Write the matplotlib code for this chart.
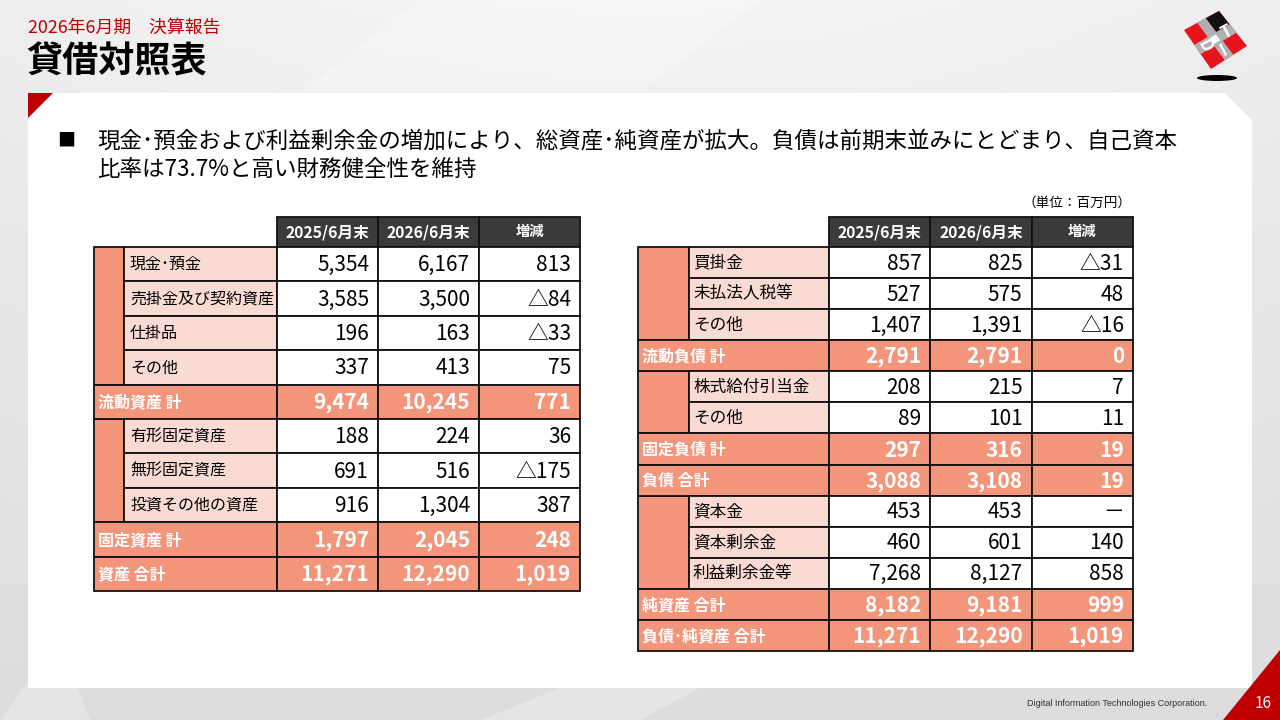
import matplotlib
matplotlib.use("Agg")
import matplotlib.pyplot as plt
from matplotlib.patches import Rectangle, Polygon, Ellipse
import numpy as np

plt.rcParams['font.family'] = ['Noto Sans CJK JP', 'DejaVu Sans']

# ---------------- data ----------------
subtitle = "2026年6月期　決算報告"
title = "貸借対照表"
bullet_lines = ["現金･預金および利益剰余金の増加により、総資産･純資産が拡大。負債は前期末並みにとどまり、自己資本",
                "比率は73.7%と高い財務健全性を維持"]
unit_label = "（単位：百万円）"
col_headers = ["2025/6月末", "2026/6月末", "増減"]

left_labels = ["現金･預金", "売掛金及び契約資産", "仕掛品", "その他", "流動資産 計",
               "有形固定資産", "無形固定資産", "投資その他の資産", "固定資産 計", "資産 合計"]
left_kinds = ["item", "item", "item", "item", "total", "item", "item", "item", "total", "total"]
left_2025 = [5354, 3585, 196, 337, 9474, 188, 691, 916, 1797, 11271]
left_2026 = [6167, 3500, 163, 413, 10245, 224, 516, 1304, 2045, 12290]
left_diff = [813, -84, -33, 75, 771, 36, -175, 387, 248, 1019]

right_labels = ["買掛金", "未払法人税等", "その他", "流動負債 計", "株式給付引当金", "その他",
                "固定負債 計", "負債 合計", "資本金", "資本剰余金", "利益剰余金等", "純資産 合計",
                "負債･純資産 合計"]
right_kinds = ["item", "item", "item", "total", "item", "item", "total", "total",
               "item", "item", "item", "total", "total"]
right_2025 = [857, 527, 1407, 2791, 208, 89, 297, 3088, 453, 460, 7268, 8182, 11271]
right_2026 = [825, 575, 1391, 2791, 215, 101, 316, 3108, 453, 601, 8127, 9181, 12290]
right_diff = [-31, 48, -16, 0, 7, 11, 19, 19, None, 140, 858, 999, 1019]

footer = "Digital Information Technologies Corporation."
page_no = "16"

# ---------------- style ----------------
RED = "#c00000"
SALMON = "#f2957b"
PINK = "#fadbd4"
HEAD = "#3b3b3b"
EDGE = "#111111"


def fmt(v):
    if v is None:
        return "－"
    if v < 0:
        return "△" + f"{-v:,}"
    return f"{v:,}"


fig = plt.figure(figsize=(12.8, 7.2), dpi=100)
ax = fig.add_axes([0, 0, 1, 1])
ax.set_xlim(0, 1280)
ax.set_ylim(720, 0)
ax.axis('off')

# background gradient
yy = np.linspace(0, 1, 200)[:, None]
xx = np.linspace(0, 1, 320)[None, :]
bg = 0.935 - 0.07 * yy + 0.02 * np.sin(np.pi * xx) * (1 - yy)
ax.imshow(np.dstack([bg, bg, bg]), extent=(0, 1280, 720, 0), aspect='auto', zorder=0)
ax.add_patch(Polygon([(420, 0), (760, 0), (640, 93), (300, 93)], closed=True,
                     facecolor='white', alpha=0.25, edgecolor='none', zorder=0.5))
ax.add_patch(Polygon([(0, 720), (60, 640), (90, 720)], closed=True,
                     facecolor='white', alpha=0.25, edgecolor='none', zorder=0.5))
ax.add_patch(Polygon([(480, 720), (560, 688), (700, 688), (640, 720)], closed=True,
                     facecolor='white', alpha=0.25, edgecolor='none', zorder=0.5))

# white panel with cut corner
ax.add_patch(Polygon([(28, 93), (1225, 93), (1252, 120), (1252, 688), (28, 688)], closed=True,
                     facecolor='white', edgecolor='none', zorder=1))
ax.add_patch(Polygon([(28, 93), (53, 93), (28, 118)], closed=True, facecolor=RED,
                     edgecolor='none', zorder=2))
ax.add_patch(Polygon([(1280, 650), (1280, 720), (1223, 720)], closed=True, facecolor=RED,
                     edgecolor='none', zorder=2))

# titles
ax.text(28, 28, subtitle, color=RED, fontsize=12.9, va='center', ha='left', zorder=3)
ax.text(26, 62, title, color='black', fontsize=26, fontweight='bold', va='center', ha='left', zorder=3)

# bullet
ax.text(57, 141, "■", fontsize=13, va='center', ha='left', zorder=3)
ax.text(97, 141, bullet_lines[0], fontsize=16.2, va='center', ha='left', zorder=3)
ax.text(97, 169, bullet_lines[1], fontsize=16.2, va='center', ha='left', zorder=3)

ax.text(1132, 203, unit_label, fontsize=9.8, va='center', ha='right', zorder=3)

# footer
ax.text(1207, 704, footer, fontsize=6.5, family=['Liberation Sans', 'DejaVu Sans'],
        color='#333333', va='center', ha='right', zorder=3)
ax.text(1263, 703, page_no, fontsize=11, color='white', va='center', ha='center', zorder=3)

# logo (rotated cube)
L = np.array([1184, 30.0]); T = np.array([1219, 11.0]); R = np.array([1247, 46.0]); B = np.array([1211, 69.0])


def qp(u, v):
    top = L + (T - L) * u
    bot = B + (R - B) * u
    return tuple(top + (bot - top) * v)


def quad(u0, u1, v0, v1, color):
    ax.add_patch(Polygon([qp(u0, v0), qp(u1, v0), qp(u1, v1), qp(u0, v1)], closed=True,
                         facecolor=color, edgecolor='none', zorder=4))


quad(0, 1, 0, 1, "#e8141b")
quad(0.62, 1, 0, 0.38, "#111111")
quad(0.38, 0.62, 0, 1, "#b0b0b0")
quad(0, 1, 0.38, 0.62, "#b0b0b0")
quad(0.42, 0.58, 0.42, 0.58, "white")
ax.text(*qp(0.19, 0.5), "D", color='white', fontsize=12, fontweight='bold', rotation=-62,
        ha='center', va='center', zorder=5)
ax.text(*qp(0.5, 0.81), "I", color='white', fontsize=12, fontweight='bold', rotation=28,
        ha='center', va='center', zorder=5)
ax.text(*qp(0.81, 0.5), "T", color='white', fontsize=12, fontweight='bold', rotation=28,
        ha='center', va='center', zorder=5)
ax.add_patch(Ellipse((1217, 78), 40, 6, facecolor='black', edgecolor='none', zorder=4))


def cell(x, y, w, h, fc, lw=1.3):
    ax.add_patch(Rectangle((x, y), w, h, facecolor=fc, edgecolor=EDGE, linewidth=lw, zorder=6))


def draw_table(x0, strip_w, label_w, col_w, y0, head_h, row_h, labels, kinds, v1, v2, vd, lab_fs, pad):
    cx0 = x0 + strip_w + label_w
    for j, h in enumerate(col_headers):
        cell(cx0 + j * col_w, y0, col_w, head_h, HEAD)
        ax.text(cx0 + (j + 0.5) * col_w, y0 + head_h / 2, h, color='white',
                fontsize=11.3 if j < 2 else 10.3, fontweight='bold', ha='center', va='center', zorder=7)
    i = 0
    n = len(labels)
    while i < n:
        if kinds[i] == "item":
            k = i
            while k < n and kinds[k] == "item":
                k += 1
            cell(x0, y0 + head_h + i * row_h, strip_w, (k - i) * row_h, SALMON)
            i = k
        else:
            i += 1
    for i in range(n):
        y = y0 + head_h + i * row_h
        yc = y + row_h / 2
        tot = kinds[i] == "total"
        if tot:
            cell(x0, y, strip_w + label_w, row_h, SALMON)
            ax.text(x0 + 4, yc + 0.5, labels[i], color='white', fontsize=11.5, fontweight='bold',
                    ha='left', va='center', zorder=7)
        else:
            cell(x0 + strip_w, y, label_w, row_h, PINK)
            ax.text(x0 + strip_w + pad, yc + 0.5, labels[i], color='black', fontsize=lab_fs,
                    ha='left', va='center', zorder=7)
        for j, vals in enumerate([v1, v2, vd]):
            cell(cx0 + j * col_w, y, col_w, row_h, SALMON if tot else 'white')
            ax.text(cx0 + (j + 1) * col_w - 9, yc + 1, fmt(vals[i]),
                    color='white' if tot else 'black', fontsize=15,
                    fontweight='bold' if tot else 'normal', ha='right', va='center', zorder=7)


draw_table(94, 30, 153, 101, 217, 30, 34.4, left_labels, left_kinds, left_2025, left_2026, left_diff, 11.5, 6)
draw_table(638, 51, 140, 101.3, 217, 30, 31.08, right_labels, right_kinds, right_2025, right_2026, right_diff, 12, 4)

fig.savefig("out.png", dpi=100)
